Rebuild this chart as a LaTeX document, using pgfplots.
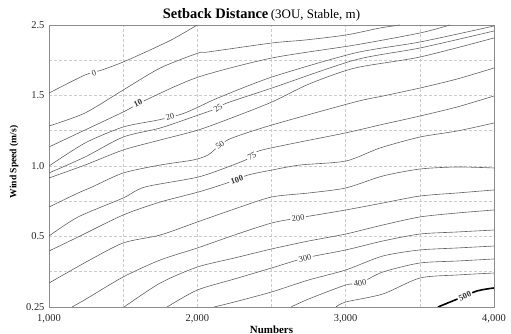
\documentclass[border=0pt]{standalone}
\usepackage{pgfplots}
\pgfplotsset{compat=1.18}
\usepackage{fontspec}
\setmainfont{Liberation Serif}
\tikzset{cl/.style={color=black!62, line width=0.6bp, smooth, tension=0.45},
 lab/.style={fill=white, inner xsep=1.5bp, inner ysep=0.3bp, font=\fontsize{8.5}{9}\selectfont, text=black!80}}
\begin{document}
\begin{tikzpicture}
\useasboundingbox (-49bp,-27bp) rectangle (462bp,307bp);
\begin{axis}[
 at={(0,0)}, anchor=south west,
 width=445bp, height=282bp, scale only axis,
 xmin=1000, xmax=4000, ymin=0, ymax=4,
 xtick={1000,2000,3000,4000}, xticklabels={{1,000},{2,000},{3,000},{4,000}},
 minor xtick={1500,2500,3500},
 ytick={0,1,2,3,4}, yticklabels={0.25,0.5,1.0,1.5,2.5},
 minor ytick={0.5,1.5,2.5,3.5},
 grid=both,
 major grid style={black!20, dash pattern=on 3bp off 2bp, line width=0.5bp},
 minor grid style={black!20, dash pattern=on 3bp off 2bp, line width=0.5bp},
 axis line style={black!45, line width=0.8bp},
 tick style={draw=none},
 tick label style={font=\fontsize{10.5}{12}\selectfont, text=black!85},
 xticklabel style={yshift=-4bp},
 yticklabel style={xshift=-1bp},
 xlabel={\fontsize{11}{12}\selectfont\bfseries Numbers},
 xlabel style={at={(axis description cs:0.5,0)}, anchor=north, yshift=-15bp},
 ylabel={\fontsize{9.6}{11}\selectfont\bfseries Wind Speed (m/s)},
 ylabel style={at={(axis description cs:-0.0787,0.514)}, anchor=center},
]
% contour 0
\addplot[cl, no markers] coordinates {(1000,3.035) (1243,3.291) (1357,3.362) (1500,3.475) (1681,3.645) (1836,3.801) (2000,4.0)};
% contour 5
\addplot[cl, no markers] coordinates {(1000,2.567) (1243,2.752) (1500,3.078) (1750,3.390) (2007,3.603) (2072,3.617) (2503,3.745) (2726,3.787) (3002,3.858) (3231,3.957) (3366,4.0)};
% contour 10
\addplot[cl, no markers] coordinates {(1000,2.270) (1243,2.511) (1500,2.766) (1667,2.950) (2007,3.262) (2503,3.532) (3063,3.716) (3501,3.887) (3703,4.0)};
% contour 20
\addplot[cl, no markers] coordinates {(1000,2.0) (1243,2.326) (1500,2.553) (1735,2.652) (1897,2.738) (2007,2.837) (2139,2.965) (2503,3.262) (3063,3.603) (3501,3.759) (4000,3.986)};
% contour 25
\addplot[cl, no markers] coordinates {(1000,1.901) (1243,2.128) (1500,2.411) (1750,2.539) (2007,2.723) (2139,2.823) (2200,2.894) (2503,3.106) (3063,3.504) (3501,3.674) (4000,3.915)};
% contour 30
\addplot[cl, no markers] coordinates {(1000,1.830) (1243,2.014) (1500,2.227) (1750,2.369) (2007,2.511) (2247,2.695) (2503,2.908) (2753,3.163) (3063,3.390) (3501,3.546) (4000,3.816)};
% contour 50
\addplot[cl, no markers] coordinates {(1000,1.418) (1196,1.617) (1290,1.702) (1500,1.901) (1750,2.014) (1971,2.085) (2072,2.156) (2153,2.298) (2234,2.397) (2503,2.582) (3063,2.908) (3252,2.993) (3501,3.106) (3751,3.234) (4000,3.390)};
% contour 75
\addplot[cl, no markers] coordinates {(1000,1.007) (1196,1.277) (1500,1.546) (1647,1.702) (2007,1.844) (2240,2.014) (2369,2.128) (2436,2.227) (2996,2.468) (3231,2.582) (3501,2.709) (3751,2.837) (4000,2.993)};
% contour 100
\addplot[cl, no markers] coordinates {(1000,0.794) (1196,0.993) (1500,1.305) (1750,1.489) (2007,1.631) (2200,1.759) (2342,1.872) (2503,1.943) (2692,2.014) (3002,2.071) (3231,2.255) (3501,2.411) (3751,2.496) (4000,2.610)};
% contour 150
\addplot[cl, no markers] coordinates {(1000,0.340) (1250,0.638) (1500,0.908) (1750,1.021) (2000,1.206) (2250,1.390) (2500,1.560) (2750,1.617) (3000,1.688) (3250,1.858) (3500,1.957) (3750,1.986) (4000,1.972)};
% contour 200
\addplot[cl, no markers] coordinates {(1155,0) (1250,0.113) (1500,0.426) (1750,0.667) (2000,0.837) (2250,1.021) (2500,1.191) (2679,1.262) (3000,1.376) (3250,1.475) (3500,1.574) (3750,1.617) (4000,1.660)};
% contour 250
\addplot[cl, no markers] coordinates {(1506,0) (1750,0.340) (2000,0.567) (2250,0.695) (2500,0.823) (2750,0.936) (3000,1.035) (3250,1.163) (3500,1.277) (3750,1.333) (4000,1.376)};
% contour 300
\addplot[cl, no markers] coordinates {(1796,0) (2000,0.241) (2250,0.397) (2500,0.553) (2726,0.695) (3000,0.809) (3250,0.936) (3500,1.035) (3750,1.064) (4000,1.092)};
% contour 350
\addplot[cl, no markers] coordinates {(2112,0) (2250,0.071) (2500,0.213) (2750,0.383) (3000,0.525) (3250,0.723) (3500,0.809) (3750,0.837) (4000,0.865)};
% contour 400
\addplot[cl, no markers] coordinates {(2631,0) (2750,0.113) (3000,0.312) (3097,0.340) (3250,0.496) (3500,0.624) (3750,0.652) (4000,0.681)};
% contour 450
\addplot[cl, no markers] coordinates {(2935,0) (3000,0.071) (3250,0.184) (3500,0.411) (3750,0.454) (4000,0.482)};
% contour 500
\addplot[black, line width=1.6bp, no markers, smooth, tension=0.45] coordinates {(3622,0) (3737,0.099) (3885,0.227) (4000,0.270)};
% contour labels
\node[lab, rotate=20] at (axis cs:1303,3.319) {0};
\node[lab, rotate=25, font=\fontsize{8.5}{9}\selectfont\bfseries] at (axis cs:1600,2.894) {10};
\node[lab, rotate=17] at (axis cs:1816,2.695) {20};
\node[lab, rotate=35] at (axis cs:2139,2.823) {25};
\node[lab, rotate=35] at (axis cs:2153,2.298) {50};
\node[lab, rotate=25] at (axis cs:2369,2.142) {75};
\node[lab, rotate=20, font=\fontsize{8.5}{9}\selectfont\bfseries] at (axis cs:2267,1.801) {100};
\node[lab, rotate=8] at (axis cs:2679,1.262) {200};
\node[lab, rotate=12] at (axis cs:2726,0.695) {300};
\node[lab, rotate=10] at (axis cs:3097,0.340) {400};
\node[lab, rotate=25, font=\fontsize{8.5}{9}\selectfont\bfseries] at (axis cs:3804,0.156) {500};
\end{axis}
\node[anchor=center] at (212.5bp,292bp) {{\fontsize{14.5}{16}\selectfont\bfseries Setback Distance} {\fontsize{13}{14}\selectfont (3OU, Stable, m)}};
\end{tikzpicture}
\end{document}
